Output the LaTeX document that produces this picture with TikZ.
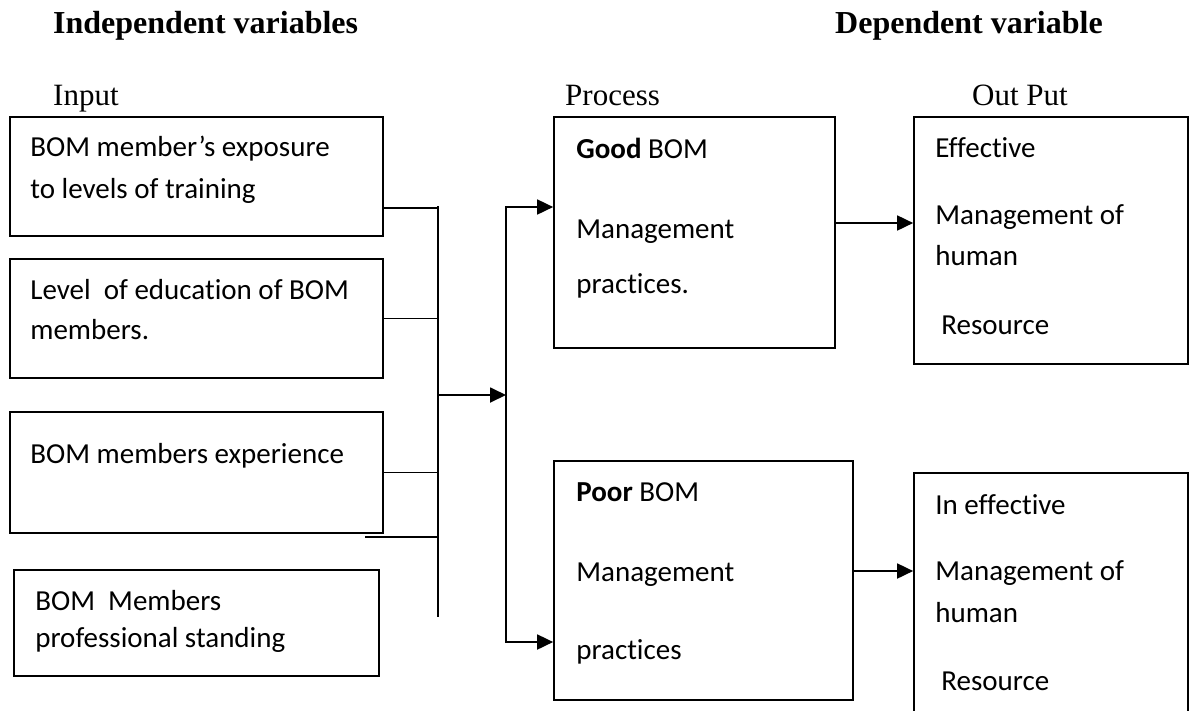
\documentclass[tikz,border=0pt]{standalone}
\usepackage{fontspec}
\setmainfont{Liberation Serif}
\newfontfamily\boxfont{Carlito}[Ligatures=NoCommon]
\usetikzlibrary{arrows.meta,positioning}

\begin{document}
\begin{tikzpicture}[
  x=1pt, y=-1pt,
  box/.style={rectangle, draw=black, line width=1.7pt, inner sep=0pt},
  txt/.style={anchor=north west, align=left, inner sep=0pt,
              font=\boxfont\fontsize{29}{41}\selectfont,
              execute at begin node=\strut},
  head/.style={anchor=base west, inner sep=0pt,
               font=\bfseries\fontsize{32}{38}\selectfont},
  stage/.style={anchor=base west, inner sep=0pt,
                font=\fontsize{31}{37}\selectfont},
  link/.style={line width=1.8pt},
  arr/.style={-{Triangle[length=16pt,width=15pt]}, line width=1.8pt}
]
  \clip (0,0) rectangle (1196,710);

  % headings
  \node[head] (indep) at (53,33) {Independent variables};
  \node[head] (dep) at (835,33) {Dependent variable};
  \node[stage] (inlbl) at (53,105) {Input};
  \node[stage] (proclbl) at (565,105) {Process};
  \node[stage] (outlbl) at (972,105) {Out Put};

  % input boxes
  \node[box, minimum width=373pt, minimum height=119pt] (in1) at (196.5,176.5) {};
  \node[txt, below right=19.3pt and 21pt of in1.north west] (in1t)
    {BOM member’s exposure\\[1pt]to levels of training};
  \node[box, minimum width=373pt, minimum height=119pt] (in2) at (196.5,318.5) {};
  \node[txt, below right=21.3pt and 21pt of in2.north west] (in2t)
    {Level\ \ of education of BOM\\[-1pt]members.};
  \node[box, minimum width=373pt, minimum height=121pt] (in3) at (196.5,472.5) {};
  \node[txt, below right=23.3pt and 21pt of in3.north west] (in3t)
    {BOM members experience};
  \node[box, minimum width=365pt, minimum height=106pt] (in4) at (196.5,623) {};
  \node[txt, below right=21.3pt and 22pt of in4.north west] (in4t)
    {BOM\ \ Members\\[-4pt]professional standing};

  % process boxes
  \node[box, minimum width=281pt, minimum height=231pt] (good) at (694.5,232.5) {};
  \node[txt, below right=21.3pt and 23pt of good.north west] (goodt)
    {\textbf{Good} BOM\\[39pt]Management\\[14pt]practices.};
  \node[box, minimum width=299pt, minimum height=239pt] (poor) at (703.5,580.5) {};
  \node[txt, below right=22.3pt and 23pt of poor.north west] (poort)
    {\textbf{Poor} BOM\\[39pt]Management\\[37pt]practices};

  % output boxes
  \node[box, minimum width=274pt, minimum height=247pt] (eff) at (1051,240.5) {};
  \node[txt, below right=21.3pt and 22pt of eff.north west] (efft)
    {Effective\\[26pt]Management of\\human\\[28pt]\hspace*{6pt}Resource};
  \node[box, minimum width=274pt, minimum height=243pt] (ineff) at (1051,594.5) {};
  \node[txt, below right=22.3pt and 22pt of ineff.north west] (inefft)
    {In effective\\[25pt]Management of\\[1pt]human\\[27pt]\hspace*{6pt}Resource};

  % connectors
  \coordinate (bustop) at (438,206);
  \coordinate (busbot) at (438,617);
  \coordinate (split) at (506,395);
  \coordinate (stub) at (365,537);

  \draw[link] (bustop) -- (busbot);
  \draw[link] ([yshift=-31.5pt]in1.east) -- ([yshift=-31.5pt]in1.east -| bustop);
  \draw[link] (in2.east) -- (in2.east -| bustop);
  \draw[link] (in3.east) -- (in3.east -| bustop);
  \draw[link] (stub) -- (stub -| bustop);
  \draw[arr] (split -| bustop) -- (split);
  \draw[arr] (split) |- ([yshift=25.5pt]good.west);
  \draw[arr] (split) |- ([yshift=-61.5pt]poor.west);
  \draw[arr] ([yshift=9.5pt]good.east) -- ([yshift=9.5pt]good.east -| eff.west);
  \draw[arr] ([yshift=9.5pt]poor.east) -- ([yshift=9.5pt]poor.east -| ineff.west);
\end{tikzpicture}
\end{document}
